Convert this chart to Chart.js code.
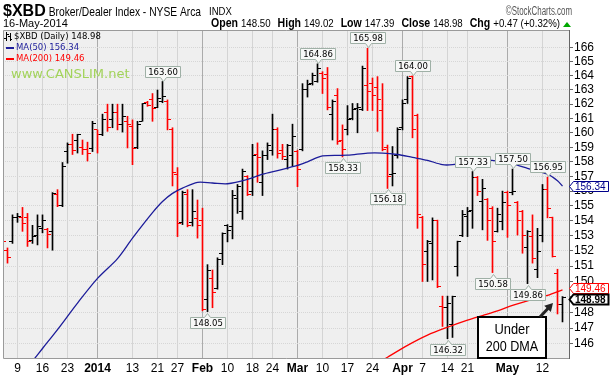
<!DOCTYPE html>
<html><head><meta charset="utf-8">
<script src="https://cdn.jsdelivr.net/npm/chart.js@4.4.1/dist/chart.umd.min.js"></script>
<style>html,body{margin:0;padding:0;background:#fff}canvas{display:block}</style>
</head><body>
<canvas id="c" width="612" height="375"></canvas>
<script>
const dates = [
'2013-12-04','2013-12-05','2013-12-06','2013-12-09','2013-12-10','2013-12-11','2013-12-12','2013-12-13','2013-12-16','2013-12-17',
'2013-12-18','2013-12-19','2013-12-20','2013-12-23','2013-12-24','2013-12-26','2013-12-27','2013-12-30','2013-12-31',
'2014-01-02','2014-01-03','2014-01-06','2014-01-07','2014-01-08','2014-01-09','2014-01-10','2014-01-13','2014-01-14','2014-01-15',
'2014-01-16','2014-01-17','2014-01-21','2014-01-22','2014-01-23','2014-01-24','2014-01-27','2014-01-28','2014-01-29','2014-01-30','2014-01-31',
'2014-02-03','2014-02-04','2014-02-05','2014-02-06','2014-02-07','2014-02-10','2014-02-11','2014-02-12','2014-02-13','2014-02-14',
'2014-02-18','2014-02-19','2014-02-20','2014-02-21','2014-02-24','2014-02-25','2014-02-26','2014-02-27','2014-02-28',
'2014-03-03','2014-03-04','2014-03-05','2014-03-06','2014-03-07','2014-03-10','2014-03-11','2014-03-12','2014-03-13','2014-03-14',
'2014-03-17','2014-03-18','2014-03-19','2014-03-20','2014-03-21','2014-03-24','2014-03-25','2014-03-26','2014-03-27','2014-03-28','2014-03-31',
'2014-04-01','2014-04-02','2014-04-03','2014-04-04','2014-04-07','2014-04-08','2014-04-09','2014-04-10','2014-04-11','2014-04-14',
'2014-04-15','2014-04-16','2014-04-17','2014-04-21','2014-04-22','2014-04-23','2014-04-24','2014-04-25','2014-04-28','2014-04-29','2014-04-30',
'2014-05-01','2014-05-02','2014-05-05','2014-05-06','2014-05-07','2014-05-08','2014-05-09','2014-05-12','2014-05-13','2014-05-14','2014-05-15','2014-05-16'
];
const open = [
152.9,152.0,152.65,154.2,154.2,154.2,152.7,153.0,153.5,153.45,
153.3,155.75,155.05,158.7,159.2,159.5,159.0,158.85,158.9,160.2,
159.85,161.4,160.9,161.4,160.55,160.8,160.45,158.95,160.8,162.1,
162.3,161.8,162.2,162.2,160.2,157.15,153.9,155.8,153.9,154.15,
154.05,148.85,150.2,149.55,151.8,153.7,153.6,155.5,154.6,157.0,
156.0,158.5,156.6,158.45,158.8,160.2,158.8,158.15,158.45,158.7,
158.85,163.0,163.45,163.6,164.2,164.1,161.3,162.6,159.5,160.2,
161.0,161.7,161.65,163.3,163.45,163.2,161.55,158.95,157.15,158.45,
160.35,162.3,163.95,161.2,154.2,151.95,152.5,154.0,148.4,148.3,
147.2,151.0,153.0,154.3,154.7,156.9,155.3,155.4,154.85,153.3,
153.95,155.9,155.9,155.2,154.6,152.2,152.95,150.8,153.05,156.1,
154.2,150.55,148.50
];
const high = [
153.0,152.2,154.4,154.5,154.9,154.5,153.7,154.4,154.4,153.5,
155.9,156.1,157.95,159.3,159.9,159.9,159.5,159.35,160.8,160.2,
161.3,162.0,162.0,162.0,162.0,161.15,160.9,160.8,162.05,162.2,
162.75,163.0,163.6,162.3,160.35,157.6,156.0,156.1,156.1,155.4,
154.85,151.1,150.75,151.55,153.2,153.75,156.05,156.45,157.5,157.05,
159.2,159.3,158.75,159.3,161.3,160.35,159.2,159.2,160.6,158.8,
163.45,163.7,164.2,164.86,164.3,164.6,162.3,163.1,160.55,161.9,
162.05,162.05,164.7,165.98,163.85,163.95,163.45,159.15,159.05,160.35,
162.3,163.95,164.0,161.3,154.3,152.7,154.2,154.05,149.05,149.05,
149.05,152.65,154.7,154.9,157.33,157.0,156.8,155.5,154.95,154.85,
156.0,156.0,157.5,155.3,154.7,153.35,154.4,153.5,156.45,156.95,
154.25,150.8,149.02
];
const low = [
152.3,151.2,152.5,153.9,153.3,152.3,152.5,152.4,153.2,152.2,
152.05,154.95,154.95,157.9,158.5,158.6,158.5,158.05,158.7,158.6,
159.8,160.1,160.35,160.2,160.05,158.95,157.8,158.9,160.8,161.85,
160.8,161.75,162.1,160.2,156.35,152.95,153.75,153.6,153.65,152.85,
148.1,148.05,148.3,149.5,151.1,152.6,152.8,154.5,154.1,155.7,
155.7,156.6,155.7,158.15,158.45,158.25,158.15,157.5,157.7,156.3,
158.75,162.5,163.35,163.55,162.75,161.6,159.5,159.2,158.33,159.85,
160.9,160.0,161.55,161.55,161.55,160.1,158.75,156.18,156.35,158.25,
160.2,162.05,159.65,153.5,150.0,150.0,150.1,149.6,147.1,146.32,
146.4,150.35,152.95,152.95,153.5,155.7,153.4,152.7,150.58,153.25,
153.4,152.9,155.75,153.05,151.85,149.86,151.2,150.25,152.6,154.2,
151.6,147.9,147.39
];
const close = [
152.6,151.6,154.2,154.3,153.85,152.6,152.95,153.6,154.0,153.1,
155.85,155.0,157.7,159.2,158.8,159.85,158.85,158.6,160.65,159.85,
160.9,160.35,161.4,160.55,161.15,160.55,158.9,160.55,162.05,161.9,
161.7,162.4,162.55,160.9,157.25,153.8,155.9,153.7,154.65,153.7,
148.2,150.7,149.3,151.45,153.15,153.35,155.7,156.3,157.3,155.75,
158.45,158.3,158.4,159.15,160.25,158.6,158.35,159.1,159.75,157.45,
163.0,163.4,164.05,164.55,163.85,161.8,162.2,159.4,158.85,160.9,
161.6,161.75,164.55,162.9,162.6,162.3,158.85,157.0,157.2,160.2,
162.05,163.85,160.2,154.4,151.1,152.6,154.0,149.7,148.3,148.6,
149.0,152.6,154.4,154.6,156.9,156.0,156.15,154.0,152.6,154.4,
155.2,155.0,156.0,154.05,153.05,153.3,151.5,151.95,156.1,154.85,
151.65,148.51,148.98
];
const priorClose = 153.0;

const ma50Dates = ['2013-12-12','2013-12-16','2013-12-19','2013-12-26','2014-01-02','2014-01-08','2014-01-13','2014-01-17','2014-01-22','2014-01-24',
'2014-01-28','2014-01-31','2014-02-05','2014-02-10','2014-02-14','2014-02-20','2014-02-25','2014-03-03','2014-03-05','2014-03-10',
'2014-03-17','2014-03-21','2014-03-26','2014-03-31','2014-04-03','2014-04-08','2014-04-11','2014-04-15','2014-04-21','2014-04-23',
'2014-04-29','2014-05-02','2014-05-07','2014-05-13','2014-05-15','2014-05-16'];
const ma50Values = [144.9,145.7,146.9,148.6,150.2,151.5,152.85,154.55,155.3,155.85,
156.2,156.6,156.55,156.5,156.8,157.15,157.4,157.75,158.0,158.4,
158.45,158.6,158.6,158.5,158.3,158.1,157.8,157.8,157.95,158.15,
158.05,157.85,157.55,157.15,156.7,156.34];
const ma200Dates = ['2014-03-26','2014-03-27','2014-04-02','2014-04-08','2014-04-14','2014-04-21','2014-04-24','2014-04-29','2014-05-02','2014-05-07','2014-05-13','2014-05-16'];
const ma200Values = [144.95,145.15,145.9,146.55,147.05,147.5,147.8,148.1,148.45,148.75,149.1,149.46];

const xTickDates = ['2013-12-09','2013-12-16','2013-12-23','2014-01-02','2014-01-13','2014-01-21','2014-01-27','2014-02-03','2014-02-10','2014-02-18','2014-02-24',
'2014-03-03','2014-03-10','2014-03-17','2014-03-24','2014-04-01','2014-04-07','2014-04-14','2014-04-21','2014-05-01','2014-05-12'];
const xTickLabels = ['9','16','23','2014','13','21','27','Feb','10','18','24','Mar','10','17','24','Apr','7','14','21','May','12'];
const xTickBold = [0,0,0,1,0,0,0,1,0,0,0,1,0,0,0,1,0,0,0,1,0];
const yTicks = [146,147,148,149,150,151,152,153,154,155,156,157,158,159,160,161,162,163,164,165,166];

const calloutDates = ['2014-01-22','2014-02-04','2014-03-07','2014-03-14','2014-03-21','2014-03-27','2014-04-03','2014-04-14','2014-04-22','2014-04-28','2014-05-02','2014-05-07','2014-05-13'];
const calloutKinds = ['H','L','H','L','H','L','H','L','H','L','H','L','H'];

const symbol = '$XBD', titleText = 'Broker/Dealer Index - NYSE Arca', exchText = 'INDX', dateText = '16-May-2014';

const SANS = '"Liberation Sans", Arial, sans-serif';
const DV = '"DejaVu Sans", Verdana, sans-serif';
const RED = '#ff0000', BLUE = '#1c1c9a';

function barColor(k){ const p = k === 0 ? priorClose : close[k-1]; return close[k] < p ? RED : '#000000'; }

const barData = dates.map((d,k) => ({x:k, y:[low[k], high[k]]}));
const ma50Data = ma50Dates.map((d,j) => ({x: dates.indexOf(d), y: ma50Values[j]}));
const ma200Data = ma200Dates.map((d,j) => ({x: dates.indexOf(d), y: ma200Values[j]}));

// draw text squeezed horizontally by factor sx; returns drawn width
function squeezed(ctx, text, x, y, sx){
  const w = ctx.measureText(text).width * sx;
  ctx.save(); ctx.translate(x, y); ctx.scale(sx, 1); ctx.textAlign = 'left'; ctx.fillText(text, 0, 0); ctx.restore();
  return w;
}

const bgPlugin = {
  id:'bg',
  beforeDraw(chart){
    const {ctx, chartArea:a} = chart;
    ctx.save();
    ctx.fillStyle = '#fff'; ctx.fillRect(0,0,chart.width,chart.height);
    ctx.fillStyle = '#efefef'; ctx.fillRect(a.left, a.top, a.right-a.left, a.bottom-a.top);
    ctx.restore();
  }
};

const tickPlugin = {
  id:'ohlcTicks',
  afterDatasetDraw(chart, args){
    if (args.index !== 0) return;
    const {ctx, chartArea:a, scales:{x, y}} = chart;
    ctx.save();
    ctx.beginPath(); ctx.rect(a.left, a.top, a.right-a.left, a.bottom-a.top); ctx.clip();
    for (let k = 0; k < dates.length; k++){
      const xc = Math.floor(x.getPixelForValue(k));
      ctx.fillStyle = barColor(k);
      const yo = Math.floor(y.getPixelForValue(open[k]));
      const yc = Math.floor(y.getPixelForValue(close[k]));
      ctx.fillRect(xc-3, yo, 3, 1);
      ctx.fillRect(xc+1, yc, 3, 1);
    }
    ctx.restore();
  }
};

function callout(ctx, xc, yv, text, up){
  ctx.font = '8.5px ' + DV;
  const w = Math.round(ctx.measureText(text).width) + 5, h = 11;
  const x0 = Math.round(xc - w/2) + 0.5, x1 = x0 + w;
  const cx = Math.round(xc) + 0.5;
  ctx.beginPath();
  let y0, y1;
  if (up) {
    y1 = Math.round(yv) - 5 + 0.5; y0 = y1 - h;
    ctx.moveTo(x0,y0); ctx.lineTo(x1,y0); ctx.lineTo(x1,y1); ctx.lineTo(cx+3,y1); ctx.lineTo(cx,y1+4); ctx.lineTo(cx-3,y1); ctx.lineTo(x0,y1); ctx.closePath();
  } else {
    y0 = Math.round(yv) + 5 + 0.5; y1 = y0 + h;
    ctx.moveTo(x0,y0); ctx.lineTo(cx-3,y0); ctx.lineTo(cx,y0-4); ctx.lineTo(cx+3,y0); ctx.lineTo(x1,y0); ctx.lineTo(x1,y1); ctx.lineTo(x0,y1); ctx.closePath();
  }
  ctx.fillStyle = '#f7f8f7'; ctx.fill(); ctx.strokeStyle = '#9fb0a6'; ctx.lineWidth = 1; ctx.stroke();
  ctx.fillStyle = '#000'; ctx.textAlign = 'center'; ctx.textBaseline = 'middle';
  ctx.fillText(text, (x0+x1)/2, (y0+y1)/2 + 0.5);
}

function sideTag(ctx, xTip, yc, text, color, bold){
  ctx.font = (bold ? 'bold ' : '') + '10px ' + SANS;
  const w = Math.round(ctx.measureText(text).width) + 4, h = 10;
  const x0 = xTip + 4;
  const t = Math.round(yc - h/2) + 0.5, b = t + h;
  ctx.beginPath();
  ctx.moveTo(xTip + 0.5, (t+b)/2); ctx.lineTo(x0 + 0.5, t); ctx.lineTo(x0 + w + 0.5, t); ctx.lineTo(x0 + w + 0.5, b); ctx.lineTo(x0 + 0.5, b); ctx.closePath();
  ctx.fillStyle = '#fff'; ctx.fill();
  ctx.strokeStyle = color; ctx.lineWidth = bold ? 2 : 1; ctx.stroke();
  ctx.fillStyle = color; ctx.textAlign = 'left'; ctx.textBaseline = 'middle';
  ctx.fillText(text, x0 + 2, (t+b)/2 + 0.5);
}

const overlayPlugin = {
  id:'overlay',
  afterDraw(chart){
    const {ctx, chartArea:a, scales:{x, y}} = chart;
    ctx.save();
    ctx.strokeStyle = '#9a9a9a'; ctx.lineWidth = 1;
    ctx.beginPath();
    ctx.moveTo(a.right, a.top + 0.5); ctx.lineTo(a.left + 0.5, a.top + 0.5); ctx.lineTo(a.left + 0.5, a.bottom + 0.5); ctx.lineTo(a.right, a.bottom + 0.5);
    ctx.stroke();

    ctx.save();
    ctx.beginPath(); ctx.rect(a.left, a.top, a.right-a.left, a.bottom-a.top + 1); ctx.clip();
    calloutDates.forEach((d,j) => {
      const k = dates.indexOf(d);
      const up = calloutKinds[j] === 'H';
      const v = up ? high[k] : low[k];
      callout(ctx, x.getPixelForValue(k), y.getPixelForValue(v), v.toFixed(2), up);
    });
    ctx.restore();

    // header
    ctx.textBaseline = 'alphabetic'; ctx.textAlign = 'left'; ctx.fillStyle = '#000';
    ctx.font = 'bold 16px ' + SANS; ctx.fillText(symbol, 3, 16);
    let hx = 3 + ctx.measureText(symbol).width + 3;
    ctx.font = '13px ' + SANS; hx += squeezed(ctx, titleText, hx, 16, 0.79) + 8;
    ctx.font = '10px ' + SANS; squeezed(ctx, exchText, hx, 15, 0.95);
    ctx.fillStyle = '#555'; ctx.font = '12px ' + SANS;
    const scW = ctx.measureText('\u00A9StockCharts.com').width * 0.66;
    squeezed(ctx, '\u00A9StockCharts.com', 572 - scW, 15, 0.66);
    ctx.fillStyle = '#000'; ctx.font = '11px ' + SANS;
    ctx.fillText(dateText, 3, 27);

    const n = close.length - 1;
    const chg = close[n] - close[n-1];
    const pct = chg / close[n-1] * 100;
    const parts = [['Open',1],[open[n].toFixed(2),0],['High',1],[high[n].toFixed(2),0],['Low',1],[low[n].toFixed(2),0],
      ['Close',1],[close[n].toFixed(2),0],['Chg',1],[(chg>=0?'+':'') + chg.toFixed(2) + ' (' + (pct>=0?'+':'') + pct.toFixed(2) + '%)',0]];
    const fonts = b => b ? 'bold 12px ' + SANS : '11px ' + SANS;
    const sx = 0.88;
    let total = 0;
    parts.forEach((p,j) => { ctx.font = fonts(p[1]); total += ctx.measureText(p[0]).width * sx + (j < parts.length-1 ? (p[1] ? 3 : 7) : 0); });
    let px = 560 - total;
    parts.forEach(p => { ctx.font = fonts(p[1]); px += squeezed(ctx, p[0], px, 27, sx) + (p[1] ? 3 : 7); });
    ctx.fillStyle = '#00a800';
    ctx.beginPath(); ctx.moveTo(563, 27); ctx.lineTo(571, 27); ctx.lineTo(567, 22); ctx.closePath(); ctx.fill();

    // legend inside plot
    ctx.fillStyle = '#000';
    ctx.fillRect(6, 32, 1, 9); ctx.fillRect(4, 38, 2, 1); ctx.fillRect(7, 34, 2, 1);
    ctx.fillRect(10, 33, 1, 8); ctx.fillRect(8, 36, 2, 1); ctx.fillRect(11, 39, 1, 1);
    ctx.font = '8.5px ' + DV; ctx.textBaseline = 'middle'; ctx.textAlign = 'left';
    ctx.fillText(symbol + ' (Daily) ' + close[n].toFixed(2), 14, 37);
    ctx.fillStyle = BLUE; ctx.fillRect(6, 47, 8, 2);
    ctx.fillText('MA(50) ' + ma50Values[ma50Values.length-1].toFixed(2), 16, 48);
    ctx.fillStyle = RED; ctx.fillRect(6, 58, 8, 2);
    ctx.fillText('MA(200) ' + ma200Values[ma200Values.length-1].toFixed(2), 16, 59);
    ctx.fillStyle = '#a2d35a'; ctx.font = '13px ' + DV;
    ctx.fillText('www.CANSLIM.net', 11, 75);

    // right-side value tags
    const tipX = a.right;
    const y50 = y.getPixelForValue(ma50Values[ma50Values.length-1]);
    let y200 = y.getPixelForValue(ma200Values[ma200Values.length-1]);
    let yC = y.getPixelForValue(close[n]);
    if (Math.abs(yC - y200) < 10.5) { const m = (yC + y200)/2; y200 = m - 5.2; yC = m + 5.2; }
    sideTag(ctx, tipX, y50, ma50Values[ma50Values.length-1].toFixed(2), '#00008b', false);
    sideTag(ctx, tipX, y200, ma200Values[ma200Values.length-1].toFixed(2), RED, false);
    sideTag(ctx, tipX, yC, close[n].toFixed(2), '#000', true);

    // "Under 200 DMA" note with arrow
    const bx0 = 478, by0 = 317, bx1 = 546, by1 = a.bottom;
    ctx.fillStyle = '#fff'; ctx.fillRect(bx0, by0, bx1-bx0, by1-by0);
    ctx.strokeStyle = '#000'; ctx.lineWidth = 2; ctx.strokeRect(bx0, by0, bx1-bx0, by1-by0);
    ctx.fillStyle = '#000'; ctx.font = '15px ' + SANS; ctx.textBaseline = 'middle';
    const cxm = (bx0 + bx1) / 2;
    let tw = ctx.measureText('Under').width * 0.86; squeezed(ctx, 'Under', cxm - tw/2, 330, 0.86);
    tw = ctx.measureText('200 DMA').width * 0.84; squeezed(ctx, '200 DMA', cxm - tw/2, 347, 0.84);
    const ax0 = 540, ay0 = 317, ax1 = 553, ay1 = 303;
    const ang = Math.atan2(ay1-ay0, ax1-ax0);
    ctx.strokeStyle = '#222'; ctx.lineWidth = 3;
    ctx.beginPath(); ctx.moveTo(ax0, ay0); ctx.lineTo(ax1 - 5*Math.cos(ang), ay1 - 5*Math.sin(ang)); ctx.stroke();
    ctx.fillStyle = '#222'; ctx.beginPath();
    ctx.moveTo(ax1, ay1);
    ctx.lineTo(ax1 - 8*Math.cos(ang) + 4.5*Math.sin(ang), ay1 - 8*Math.sin(ang) - 4.5*Math.cos(ang));
    ctx.lineTo(ax1 - 8*Math.cos(ang) - 4.5*Math.sin(ang), ay1 - 8*Math.sin(ang) + 4.5*Math.cos(ang));
    ctx.closePath(); ctx.fill();
    ctx.restore();
  }
};

new Chart(document.getElementById('c'), {
  type: 'bar',
  data: { datasets: [
    { type:'bar', data: barData, backgroundColor: dates.map((d,k) => barColor(k)), barThickness: 1, borderWidth: 0, order: 3 },
    { type:'line', data: ma50Data, borderColor: BLUE, borderWidth: 1.3, pointRadius: 0, tension: 0.3, order: 1 },
    { type:'line', data: ma200Data, borderColor: RED, borderWidth: 1.3, pointRadius: 0, tension: 0.3, order: 2 }
  ]},
  options: {
    responsive: false, animation: false, devicePixelRatio: 1,
    layout: { padding: { top: 30, left: 3, right: 0, bottom: 0 } },
    plugins: { legend: { display: false }, tooltip: { enabled: false } },
    scales: {
      x: {
        type: 'linear', min: 0.1, max: 113.3, offset: false,
        afterBuildTicks: s => { s.ticks = xTickDates.map(d => ({ value: dates.indexOf(d) })); },
        afterFit: s => { s.height = 17; },
        ticks: { autoSkip: false, maxRotation: 0, minRotation: 0, padding: 3, color: '#000',
          callback: (v, i) => xTickLabels[i],
          font: c => ({ family: SANS, size: 12, weight: xTickBold[c.index] ? 'bold' : 'normal' }) },
        grid: { offset: false, color: c => xTickBold[c.index] ? '#ababab' : '#d4d4d4', lineWidth: 1, drawTicks: false },
        border: { display: false }
      },
      y: {
        type: 'logarithmic', position: 'right', min: 145.1, max: 167.3,
        afterBuildTicks: s => { s.ticks = yTicks.map(v => ({ value: v })); },
        afterFit: s => { s.width = 43; },
        ticks: { autoSkip: false, padding: 1, color: '#000', callback: v => String(v), font: { family: SANS, size: 12 } },
        grid: { color: '#d6d6d6', tickLength: 4, tickColor: '#666' },
        border: { display: true, color: '#666', dash: [1, 1] }
      }
    }
  },
  plugins: [bgPlugin, tickPlugin, overlayPlugin]
});
</script>
</body></html>
